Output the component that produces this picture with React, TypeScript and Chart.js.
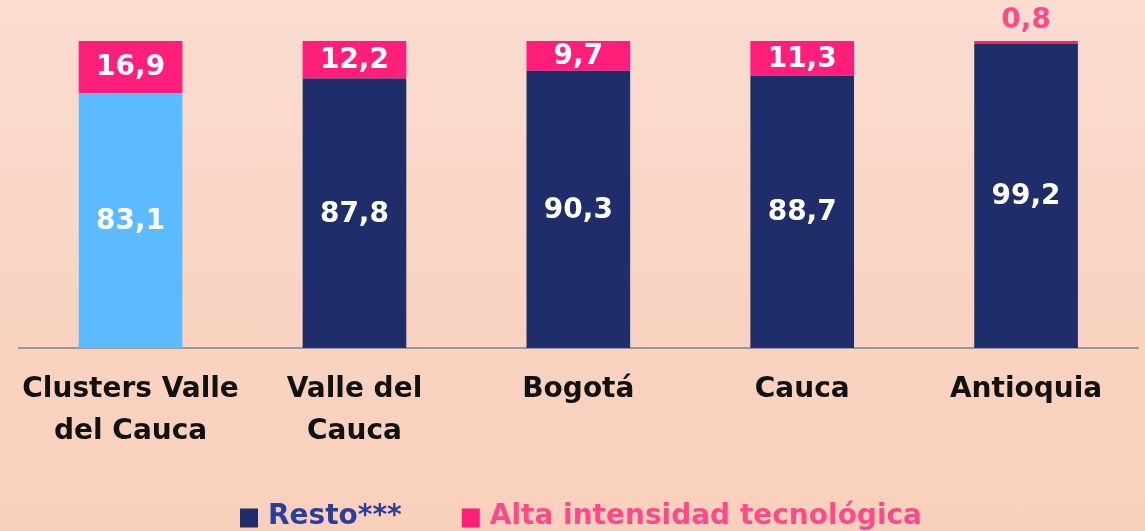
import React, { useEffect, useRef } from "react";
import { Chart, registerables } from "chart.js";

Chart.register(...registerables);

const categories: (string | string[])[] = [
  ["Clusters Valle", "del Cauca"],
  ["Valle del", "Cauca"],
  "Bogotá",
  "Cauca",
  "Antioquia",
];
const restoValues = [83.1, 87.8, 90.3, 88.7, 99.2];
const altaValues = [16.9, 12.2, 9.7, 11.3, 0.8];
const restoColors = ["#5CBBFF", "#1F2D6B", "#1F2D6B", "#1F2D6B", "#1F2D6B"];
const altaColor = "#FF1F7A";
const legendLabels = ["Resto***", "Alta intensidad tecnológica"];
const legendTextColors = ["#2C3E9C", "#FF4A8A"];
const legendBoxColors = ["#1F2D6B", "#FF1F7A"];

const FONT = "'DejaVu Sans', sans-serif";

const fmt = (v: number) => v.toFixed(1).replace(".", ",");

const labelPlugin = {
  id: "barValueLabels",
  afterDatasetsDraw(chart: any) {
    const ctx = chart.ctx;
    ctx.save();
    ctx.font = `bold 28px ${FONT}`;
    ctx.textAlign = "center";
    ctx.textBaseline = "middle";
    chart.data.datasets.forEach((ds: any, di: number) => {
      const meta = chart.getDatasetMeta(di);
      meta.data.forEach((bar: any, i: number) => {
        const v = ds.data[i];
        const top = Math.min(bar.y, bar.base);
        const bottom = Math.max(bar.y, bar.base);
        const h = bottom - top;
        if (h > 26) {
          ctx.fillStyle = "#FFFFFF";
          ctx.fillText(fmt(v), bar.x, (top + bottom) / 2 + 1);
        } else {
          ctx.fillStyle = "#FF4A8A";
          ctx.fillText(fmt(v), bar.x, top - 20);
        }
      });
    });
    ctx.restore();
  },
};

const legendPlugin = {
  id: "customLegend",
  afterDraw(chart: any) {
    const ctx = chart.ctx;
    ctx.save();
    ctx.font = `bold 28px ${FONT}`;
    ctx.textBaseline = "middle";
    ctx.textAlign = "left";
    const boxW = 18;
    const boxH = 19;
    const boxGap = 10;
    const itemGap = 60;
    const widths = legendLabels.map((t) => boxW + boxGap + ctx.measureText(t).width);
    const total = widths.reduce((a, b) => a + b, 0) + itemGap * (legendLabels.length - 1);
    let x = chart.width / 2 + 8.5 - total / 2;
    const cy = 517;
    legendLabels.forEach((t, i) => {
      ctx.fillStyle = legendBoxColors[i];
      ctx.fillRect(x, cy - boxH / 2 + 1, boxW, boxH);
      ctx.fillStyle = legendTextColors[i];
      ctx.fillText(t, x + boxW + boxGap, cy);
      x += widths[i] + itemGap;
    });
    ctx.restore();
  },
};

export default function App() {
  const canvasRef = useRef<HTMLCanvasElement | null>(null);

  useEffect(() => {
    if (!canvasRef.current) return;
    const chart = new Chart(canvasRef.current, {
      type: "bar",
      data: {
        labels: categories,
        datasets: [
          {
            label: legendLabels[0],
            data: restoValues,
            backgroundColor: restoColors,
            borderWidth: 0,
            categoryPercentage: 1,
            barPercentage: 0.463,
          },
          {
            label: legendLabels[1],
            data: altaValues,
            backgroundColor: altaColor,
            borderWidth: 0,
            categoryPercentage: 1,
            barPercentage: 0.463,
          },
        ],
      },
      options: {
        animation: false,
        responsive: false,
        maintainAspectRatio: false,
        layout: { autoPadding: false, padding: { top: 41, left: 13, right: 7, bottom: 57 } },
        scales: {
          x: {
            stacked: true,
            grid: { display: false, drawTicks: false },
            border: { display: true, color: "#9A9A9A", width: 2 },
            ticks: {
              color: "#111111",
              font: { family: FONT, size: 28, weight: "bold", lineHeight: 1.5 },
              padding: 21,
              maxRotation: 0,
              autoSkip: false,
            },
          },
          y: {
            stacked: true,
            display: false,
            min: 0,
            max: 100,
          },
        },
        plugins: {
          tooltip: { enabled: false },
          legend: { display: false },
        },
      },
      plugins: [labelPlugin, legendPlugin],
    } as any);
    return () => chart.destroy();
  }, []);

  return (
    <div
      style={{
        position: "fixed",
        top: 0,
        left: 0,
        width: 1145,
        height: 531,
        background: "linear-gradient(to bottom, #F9DDD0 0%, #F9D3C1 60%, #F9D0BC 100%)",
      }}
    >
      <canvas ref={canvasRef} width={1145} height={531} style={{ display: "block" }} />
    </div>
  );
}
